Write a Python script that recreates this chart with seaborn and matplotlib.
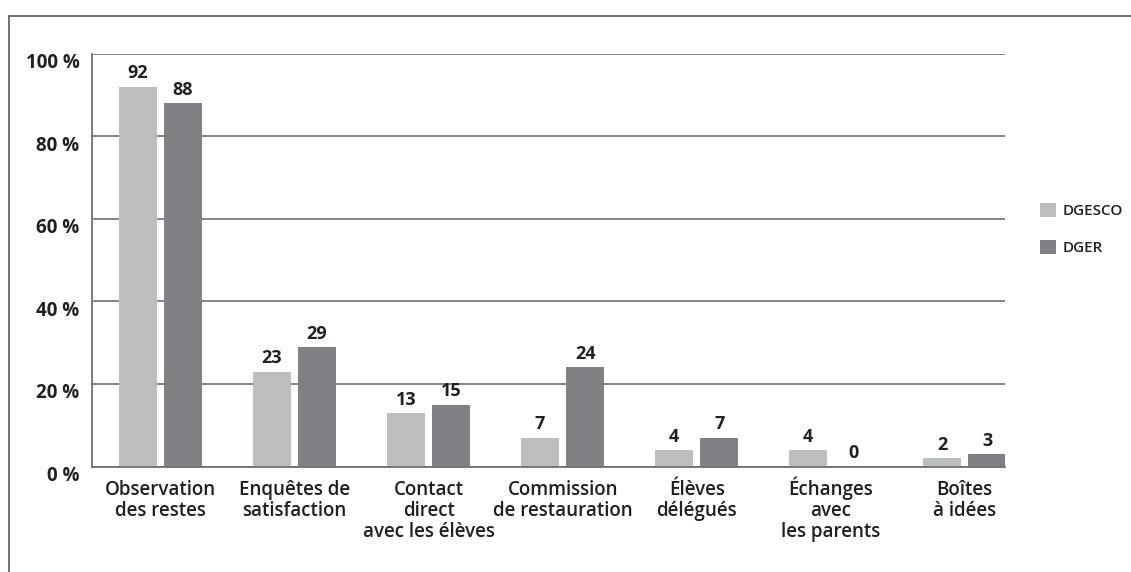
import matplotlib
matplotlib.use("Agg")
import matplotlib.pyplot as plt
import matplotlib.transforms as mtransforms
from matplotlib.lines import Line2D
import seaborn as sns
import pandas as pd

# Data
categories = [
    "Observation\ndes restes",
    "Enquêtes de\nsatisfaction",
    "Contact\ndirect\navec les élèves",
    "Commission\nde restauration",
    "Élèves\ndélégués",
    "Échanges\navec\nles parents",
    "Boîtes\nà idées",
]
dgesco = [92, 23, 13, 7, 4, 4, 2]
dger = [88, 29, 15, 24, 7, 0, 3]
series_names = ["DGESCO", "DGER"]
y_ticks = [0, 20, 40, 60, 80, 100]
y_tick_labels = ["0 %", "20 %", "40 %", "60 %", "80 %", "100 %"]

# Styles
LIGHT = "#bcbdbf"
DARK = "#808184"
GRID = "#6f7072"
TEXT = "#231f20"
FRAME = "#58595b"
XFONT = dict(fontsize=13.5, fontweight="semibold")
LINE_PX = 21  # line pitch of category labels, px

df = pd.DataFrame({
    "cat": categories * 2,
    "val": dgesco + dger,
    "serie": [series_names[0]] * len(dgesco) + [series_names[1]] * len(dger),
})

sns.set_style("white")
plt.rcParams["font.family"] = ["Open Sans", "DejaVu Sans"]
plt.rcParams["text.color"] = TEXT

fig = plt.figure(figsize=(11.31, 5.72), dpi=100)
ax = fig.add_axes([92 / 1131, 105.5 / 572, 913 / 1131, 413 / 572])

sns.barplot(data=df, x="cat", y="val", hue="serie", palette=[LIGHT, DARK],
            width=0.672, gap=0.155, errorbar=None, saturation=1,
            linewidth=0, ax=ax)

#Value labels
for cont in ax.containers:
    ax.bar_label(cont, fmt="%d", padding=3, fontsize=13, fontweight="bold", color=TEXT)

#Measure natural line pitch to get 21 px between label lines
renderer = fig.canvas.get_renderer()
t1 = fig.text(0, 0, "Ag", linespacing=1.0, **XFONT)
t2 = fig.text(0, 0, "Ag\nAg", linespacing=1.0, **XFONT)
pitch1 = t2.get_window_extent(renderer).height - t1.get_window_extent(renderer).height
t1.remove()
t2.remove()
linesp = LINE_PX / pitch1

#Axes setup
ax.set_xlim(-0.511, 6.30)
ax.set_ylim(0, 100)
ax.set_yticks(y_ticks)
ax.set_yticklabels(y_tick_labels, fontsize=13.5, fontweight="bold", color=TEXT)
ax.set_xticks(range(len(categories)))
ax.set_xticklabels(categories, linespacing=linesp, color=TEXT, va="baseline", **XFONT)
ax.set_xlabel("")
ax.set_ylabel("")
ax.tick_params(axis="both", length=0)
ax.tick_params(axis="x", pad=20.5)
ax.tick_params(axis="y", pad=9)

# baseline alignment uses the last line: lift multi-line labels so first lines line up
for lbl, txt in zip(ax.get_xticklabels(), categories):
    n = txt.count("\n")
    shift = mtransforms.ScaledTranslation(0, -n * LINE_PX / fig.dpi, fig.dpi_scale_trans)
    lbl.set_transform(lbl.get_transform() + shift)

# y labels sit a bit below their gridlines in the original
offset = mtransforms.ScaledTranslation(0, -7 / 100, fig.dpi_scale_trans)
for lbl in ax.get_yticklabels():
    lbl.set_transform(lbl.get_transform() + offset)

ax.set_axisbelow(True)
ax.yaxis.grid(True, color=GRID, lw=1.2)
ax.xaxis.grid(False)
for s in ["top", "right"]:
    ax.spines[s].set_visible(False)
for s in ["left", "bottom"]:
    ax.spines[s].set_color(GRID)
    ax.spines[s].set_linewidth(1.3)

#Legend
handles, labels = ax.get_legend_handles_labels()
if ax.get_legend() is not None:
    ax.get_legend().remove()
fig.legend(handles, labels, loc="upper left", bbox_to_anchor=(1040 / 1131, 1 - 203 / 572),
           bbox_transform=fig.transFigure, frameon=False,
           prop={"size": 11, "weight": "semibold"},
           handlelength=1.05, handleheight=1.05, handletextpad=0.45,
           labelspacing=1.4, borderpad=0, borderaxespad=0)

#Outer frame (left and top only)
fig.add_artist(Line2D([9 / 1131, 1], [1 - 16 / 572, 1 - 16 / 572],
                      transform=fig.transFigure, color=FRAME, lw=1.2))
fig.add_artist(Line2D([9 / 1131, 9 / 1131], [0, 1 - 16 / 572],
                      transform=fig.transFigure, color=FRAME, lw=1.2))

fig.savefig("out.png", dpi=100)
